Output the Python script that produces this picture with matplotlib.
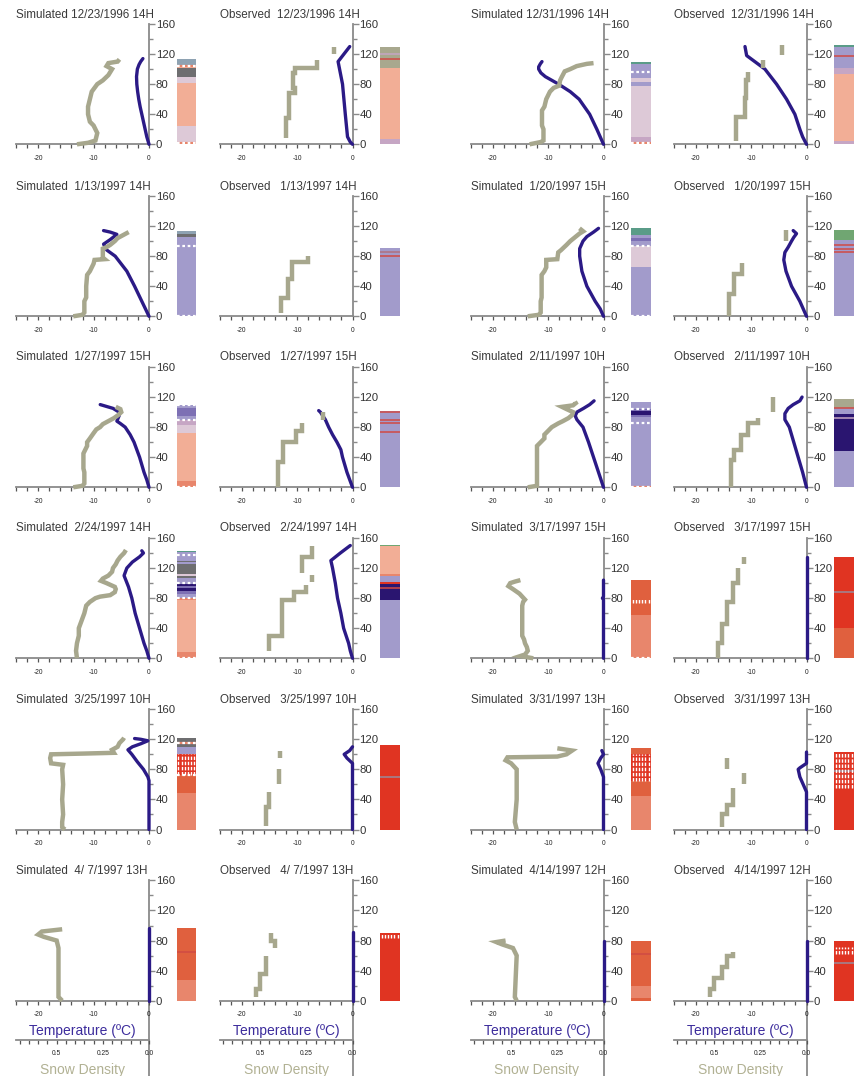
import matplotlib
matplotlib.use("Agg")
import matplotlib.pyplot as plt
from matplotlib.ticker import MultipleLocator, FixedLocator, FixedFormatter
import numpy as np

plt.rcParams['font.family'] = ['Liberation Sans', 'DejaVu Sans']
plt.rcParams['axes.unicode_minus'] = False

# ---------------------------------------------------------------------------
# Profiles: temperature (h [cm], T [degC]); density (h [cm], rho [g/cm3]),
# None separates unconnected pieces.  Layers: (bottom, top, grain class).
# ---------------------------------------------------------------------------
titles = [
    "Simulated 12/23/1996 14H", "Observed  12/23/1996 14H",
    "Simulated 12/31/1996 14H", "Observed  12/31/1996 14H",
    "Simulated  1/13/1997 14H", "Observed   1/13/1997 14H",
    "Simulated  1/20/1997 15H", "Observed   1/20/1997 15H",
    "Simulated  1/27/1997 15H", "Observed   1/27/1997 15H",
    "Simulated  2/11/1997 10H", "Observed   2/11/1997 10H",
    "Simulated  2/24/1997 14H", "Observed   2/24/1997 14H",
    "Simulated  3/17/1997 15H", "Observed   3/17/1997 15H",
    "Simulated  3/25/1997 10H", "Observed   3/25/1997 10H",
    "Simulated  3/31/1997 13H", "Observed   3/31/1997 13H",
    "Simulated  4/ 7/1997 13H", "Observed   4/ 7/1997 13H",
    "Simulated  4/14/1997 12H", "Observed   4/14/1997 12H",
]

# 12/23/1996
sim_1223_temp = [(0, 0), (10, -0.4), (20, -0.7), (30, -1.0), (40, -1.3), (50, -1.6), (60, -1.85),
                 (70, -2.05), (80, -2.2), (90, -2.25), (100, -2.1), (106, -1.8), (110, -1.5), (114, -1.1)]
sim_1223_rho = [(0, 0.39), (2, 0.33), (5, 0.29), (15, 0.28), (25, 0.30), (30, 0.32), (40, 0.33),
                (50, 0.33), (60, 0.32), (70, 0.31), (80, 0.28), (85, 0.25), (92, 0.22), (100, 0.20),
                (104, 0.23), (108, 0.22), (110, 0.17), (113, 0.16)]
sim_1223_layers = [(0, 25, 'PNK'), (25, 82, 'SAL'), (82, 89, 'PNK'), (89, 102, 'GRY'),
                   (102, 104, 'SAL'), (104, 114, 'BGR')]
sim_1223_lines = []
sim_1223_dots = [(1.5, 'COR'), (103.5, 'COR')]
sim_1223_hatch = []

obs_1223_temp = [(0, 0), (3, -0.4), (10, -0.9), (40, -1.3), (80, -1.8), (110, -2.6), (130, -0.5)]
obs_1223_rho = [(8, 0.36), (35, 0.36), (35, 0.345), (68, 0.345), (68, 0.31), (75, 0.31), (75, 0.32),
                (95, 0.32), (95, 0.31), (102, 0.31), (102, 0.19), (112, 0.19), None, (120, 0.10), (130, 0.10)]
obs_1223_layers = [(0, 7, 'MAU'), (7, 101, 'SAL'), (101, 130, 'OLV')]
obs_1223_lines = [(113, 'RLN'), (120, 'MAU')]
obs_1223_dots = []
obs_1223_hatch = []

# 12/31/1996
sim_1231_temp = [(0, 0), (20, -1.2), (40, -2.5), (60, -4.4), (70, -6.0), (80, -8.1), (85, -9.3),
                 (90, -10.5), (95, -11.3), (100, -11.7), (103, -11.7), (107, -11.4), (110, -11.1)]
sim_1231_rho = [(0, 0.40), (3, 0.34), (5, 0.325), (20, 0.325), (25, 0.333), (45, 0.333), (50, 0.32),
                (60, 0.31), (70, 0.29), (75, 0.27), (78, 0.24), (85, 0.235), (90, 0.225), (97, 0.21),
                (100, 0.18), (104, 0.145), (107, 0.09), (108, 0.054)]
sim_1231_layers = [(0, 10, 'MAU'), (10, 78, 'PNK'), (78, 83, 'LAV'), (83, 88, 'PNK'),
                   (88, 100, 'LAV'), (100, 107, 'LAV'), (107, 109, 'TEA')]
sim_1231_lines = []
sim_1231_dots = [(1.5, 'COR'), (96, None)]
sim_1231_hatch = []

obs_1231_temp = [(0, 0), (10, -0.7), (20, -1.2), (40, -2.1), (60, -3.6), (80, -5.4), (100, -7.5),
                 (118, -10.8), (130, -11.1)]
obs_1231_rho = [(5, 0.38), (36, 0.38), (36, 0.335), (62, 0.335), (62, 0.325), (85, 0.325), (85, 0.315),
                (96, 0.315), None, (101, 0.235), (112, 0.235), None, (119, 0.135), (132, 0.135)]
obs_1231_layers = [(0, 4, 'MAU'), (4, 94, 'SAL'), (94, 101, 'MAU'), (101, 130, 'LAV'), (130, 132, 'TEA')]
obs_1231_lines = [(117, 'RLN')]
obs_1231_dots = []
obs_1231_hatch = []

# 1/13/1997
sim_0113_temp = [(0, 0), (20, -1.3), (40, -2.6), (60, -4.0), (80, -6.1), (88, -7.6), (96, -8.2),
                 (102, -7.0), (109, -5.8), (112, -7.0), (114, -8.2)]
sim_0113_rho = [(0, 0.41), (2, 0.36), (5, 0.35), (20, 0.35), (25, 0.34), (40, 0.34), (55, 0.335),
                (60, 0.32), (70, 0.30), (75, 0.295), (76, 0.24), (78, 0.25), (90, 0.25), (92, 0.23),
                (95, 0.21), (100, 0.185), (104, 0.17), (108, 0.14), (112, 0.11)]
sim_0113_layers = [(0, 105, 'LAV'), (105, 110, 'GRY'), (110, 113, 'BGR')]
sim_0113_lines = []
sim_0113_dots = [(1, None), (94, None)]
sim_0113_hatch = []

obs_0113_temp = []
obs_0113_rho = [(5, 0.385), (25, 0.385), (25, 0.35), (50, 0.35), (50, 0.33), (72, 0.33),
                (72, 0.24), (80, 0.24)]
obs_0113_layers = [(0, 91, 'LAV')]
obs_0113_lines = [(80, 'RLN'), (86, 'BRN')]
obs_0113_dots = []
obs_0113_hatch = []

# 1/20/1997
sim_0120_temp = [(0, 0), (10, -0.6), (20, -1.5), (40, -3.0), (60, -3.9), (80, -4.3), (90, -4.3),
                 (100, -3.7), (106, -3.0), (112, -1.8), (117, -0.9)]
sim_0120_rho = [(0, 0.41), (2, 0.35), (5, 0.34), (20, 0.34), (25, 0.335), (55, 0.335), (60, 0.32),
                (65, 0.31), (75, 0.31), (76, 0.25), (85, 0.245), (88, 0.23), (95, 0.20), (100, 0.18),
                (105, 0.155), (110, 0.13), (113, 0.11), (117, 0.13)]
sim_0120_layers = [(0, 65, 'LAV'), (65, 93, 'PNK'), (93, 100, 'LAV'), (100, 104, 'PUR'),
                   (104, 108, 'LAV'), (108, 118, 'TEA')]
sim_0120_lines = []
sim_0120_dots = [(1, None), (93, None)]
sim_0120_hatch = []

obs_0120_temp = [(0, 0), (10, -0.6), (20, -1.2), (40, -2.7), (60, -3.7), (75, -4.1), (85, -3.9),
                 (92, -3.3), (100, -2.7), (105, -2.3), (110, -1.8), (114, -2.4)]
obs_0120_rho = [(0, 0.42), (30, 0.42), (30, 0.39), (56, 0.39), (56, 0.35), (71, 0.35), None,
                (100, 0.11), (115, 0.11)]
obs_0120_layers = [(0, 101, 'LAV'), (101, 115, 'GRN')]
obs_0120_lines = [(85, 'RLN'), (90, 'RLN'), (95, 'RLN')]
obs_0120_dots = []
obs_0120_hatch = []

# 1/27/1997
sim_0127_temp = [(0, 0), (10, -0.4), (20, -0.9), (40, -1.7), (60, -2.7), (70, -3.4), (80, -4.3),
                 (85, -5.2), (88, -5.8), (95, -5.4), (100, -5.4), (105, -6.5), (110, -8.8)]
sim_0127_rho = [(0, 0.41), (2, 0.36), (5, 0.35), (20, 0.35), (25, 0.355), (45, 0.355), (50, 0.345),
                (55, 0.335), (60, 0.335), (65, 0.32), (72, 0.30), (77, 0.285), (80, 0.265), (84, 0.25),
                (88, 0.22), (92, 0.19), (96, 0.167), (100, 0.15), (104, 0.155), (107, 0.18)]
sim_0127_layers = [(0, 8, 'COR'), (8, 72, 'SAL'), (72, 83, 'PNK'), (83, 90, 'MAU'), (90, 95, 'LAV'),
                   (95, 105, 'PUR'), (105, 110, 'LAV')]
sim_0127_lines = []
sim_0127_dots = [(1, 'COR'), (90, None), (109, None)]
sim_0127_hatch = []

obs_0127_temp = [(0, 0), (10, -0.5), (20, -1.0), (40, -1.8), (50, -2.1), (60, -2.8), (70, -3.6),
                 (80, -4.3), (90, -4.9), (100, -5.8), (102, -6.1)]
obs_0127_rho = [(0, 0.405), (33, 0.405), (33, 0.375), (60, 0.375), (60, 0.305), (75, 0.305),
                (75, 0.275), (85, 0.275), None, (90, 0.157), (100, 0.157)]
obs_0127_layers = [(0, 101, 'LAV')]
obs_0127_lines = [(74, 'RLN'), (85, 'RLN'), (90, 'RLN'), (100.5, 'RLN')]
obs_0127_dots = []
obs_0127_hatch = []

# 2/11/1997
sim_0211_temp = [(0, 0), (20, -0.9), (40, -1.8), (60, -2.7), (80, -3.7), (90, -4.8), (95, -5.1),
                 (100, -4.8), (105, -3.6), (110, -2.5), (115, -1.7)]
sim_0211_rho = [(0, 0.41), (2, 0.36), (30, 0.36), (55, 0.36), (60, 0.34), (65, 0.32), (70, 0.32),
                (80, 0.28), (85, 0.245), (88, 0.22), (92, 0.19), (96, 0.17), (100, 0.165), (104, 0.20),
                (107, 0.225), (109, 0.165), (112, 0.15), (114, 0.155)]
sim_0211_layers = [(0, 85, 'LAV'), (85, 93, 'LAV'), (93, 96, 'PUR'), (96, 101, 'NAV'),
                   (101, 104, 'PUR'), (104, 114, 'LAV')]
sim_0211_lines = []
sim_0211_dots = [(1, 'COR'), (85, None), (104, None)]
sim_0211_hatch = []

obs_0211_temp = [(0, 0), (20, -0.7), (40, -1.5), (60, -2.3), (80, -3.1), (90, -3.9), (98, -3.9),
                 (105, -3.3), (110, -2.4), (115, -1.2), (120, -0.8)]
obs_0211_rho = [(0, 0.41), (36, 0.41), (36, 0.39), (50, 0.39), (50, 0.355), (70, 0.355),
                (70, 0.316), (85, 0.316), (85, 0.26), (92, 0.26), None, (100, 0.18), (120, 0.18)]
obs_0211_layers = [(0, 48, 'LAV'), (48, 97, 'NAV'), (97, 106, 'LAV'), (106, 118, 'OLV')]
obs_0211_lines = [(92, 'MAU'), (106, 'RLN')]
obs_0211_dots = []
obs_0211_hatch = []

# 2/24/1997
sim_0224_temp = [(0, 0), (10, -0.4), (20, -0.9), (40, -1.7), (60, -2.5), (80, -3.1), (95, -3.7),
                 (110, -4.5), (120, -4.0), (128, -3.0), (135, -1.7), (140, -1.0), (143, -1.3)]
sim_0224_rho = [(0, 0.39), (10, 0.395), (20, 0.39), (30, 0.38), (40, 0.38), (50, 0.365), (60, 0.35),
                (70, 0.34), (75, 0.32), (80, 0.29), (82, 0.265), (84, 0.21), (88, 0.185), (92, 0.18),
                (95, 0.185), (100, 0.23), (103, 0.26), (106, 0.25), (110, 0.22), (115, 0.20),
                (120, 0.195), (125, 0.18), (130, 0.17), (135, 0.155), (140, 0.135), (144, 0.125)]
sim_0224_layers = [(0, 8, 'COR'), (8, 78, 'SAL'), (78, 80, 'COR'), (80, 85, 'LAV'), (85, 90, 'PUR'),
                   (90, 93, 'NAV'), (93, 96, 'PUR'), (96, 99, 'NAV'), (99, 107, 'LAV'), (107, 110, 'GRY'),
                   (110, 112, 'PNK'), (112, 126, 'GRY'), (126, 128, 'LAV'), (128, 130, 'GRY'),
                   (130, 141, 'LAV'), (141, 143, 'TEA')]
sim_0224_lines = []
sim_0224_dots = [(1, 'COR'), (80, None), (100, None), (138, None)]
sim_0224_hatch = []

obs_0224_temp = [(0, 0), (10, -0.4), (20, -0.7), (40, -1.6), (60, -2.1), (80, -2.7), (100, -3.1),
                 (120, -3.6), (130, -3.9), (140, -2.2), (150, -0.4)]
obs_0224_rho = [(10, 0.45), (30, 0.45), (30, 0.383), (78, 0.383), (78, 0.316), (88, 0.316),
                (88, 0.25), (97, 0.25), None, (101, 0.217), (111, 0.217), None,
                (113, 0.275), (135, 0.275), (135, 0.217), (150, 0.217)]
obs_0224_layers = [(0, 77, 'LAV'), (77, 99, 'NAV'), (99, 101, 'RED'), (101, 110, 'LAV'),
                   (110, 112, 'COR'), (112, 149, 'SAL'), (149, 151, 'GRN')]
obs_0224_lines = [(94, 'RLN')]
obs_0224_dots = []
obs_0224_hatch = []

# 3/17/1997
sim_0317_temp = [(0, 0), (78, 0), (80, -0.2), (82, 0), (104, 0)]
sim_0317_rho = [(0, 0.38), (3, 0.45), (5, 0.425), (10, 0.41), (15, 0.415), (20, 0.425), (25, 0.43),
                (30, 0.44), (70, 0.44), (75, 0.435), (78, 0.425), (82, 0.44), (86, 0.455), (92, 0.49),
                (96, 0.515), (100, 0.505), (102, 0.48), (104, 0.45)]
sim_0317_layers = [(0, 58, 'COR'), (58, 104, 'ORG')]
sim_0317_lines = []
sim_0317_dots = [(0.8, None)]
sim_0317_hatch = [(74, 80)]

obs_0317_temp = [(0, 0), (135, 0)]
obs_0317_rho = [(0, 0.48), (20, 0.48), (20, 0.46), (45, 0.46), (45, 0.43), (75, 0.43), (75, 0.40),
                (100, 0.40), (100, 0.37), (120, 0.37), None, (125, 0.34), (135, 0.34)]
obs_0317_layers = [(0, 40, 'ORG'), (40, 135, 'RED')]
obs_0317_lines = [(88, 'GLN')]
obs_0317_dots = []
obs_0317_hatch = []

# 3/25/1997
sim_0325_temp = [(0, 0), (65, 0), (70, -0.2), (80, -1.0), (90, -2.1), (100, -3.1), (106, -3.8),
                 (110, -3.0), (114, -1.5), (118, -0.2), (120, -1.5), (121, -2.6)]
sim_0325_rho = [(0, 0.455), (3, 0.47), (10, 0.47), (20, 0.465), (40, 0.47), (60, 0.465), (80, 0.47),
                (86, 0.465), (88, 0.53), (95, 0.535), (100, 0.53), (101, 0.35), (102, 0.19),
                (106, 0.20), (110, 0.17), (115, 0.16), (120, 0.14), (122, 0.135)]
sim_0325_layers = [(0, 49, 'COR'), (49, 72, 'ORG'), (72, 100, 'RED'), (100, 110, 'LAV'),
                   (110, 114, 'GRY'), (114, 117, 'PNK'), (117, 122, 'GRY')]
sim_0325_lines = []
sim_0325_dots = [(72, None), (115.5, 'COR')]
sim_0325_hatch = [(72, 100)]

obs_0325_temp = [(0, 0), (88, 0), (95, -1.0), (100, -1.5), (105, -0.5), (110, 0)]
obs_0325_rho = [(5, 0.47), (30, 0.47), (30, 0.45), (50, 0.45), None, (60, 0.40), (80, 0.40), None,
                (95, 0.39), (105, 0.39)]
obs_0325_layers = [(0, 112, 'RED')]
obs_0325_lines = [(70, 'GLN')]
obs_0325_dots = []
obs_0325_hatch = []

# 3/31/1997
sim_0331_temp = [(0, 0), (70, 0), (80, -0.5), (88, -1.0), (95, -0.5), (100, 0), (105, -0.3)]
sim_0331_rho = [(0, 0.47), (10, 0.48), (40, 0.47), (80, 0.47), (88, 0.50), (92, 0.53), (96, 0.52),
                (97, 0.25), (100, 0.20), (105, 0.17), (108, 0.25)]
sim_0331_layers = [(0, 45, 'COR'), (45, 65, 'ORG'), (65, 100, 'RED'), (100, 108, 'ORG')]
sim_0331_lines = []
sim_0331_dots = []
sim_0331_hatch = [(65, 100)]

obs_0331_temp = [(0, 0), (50, 0), (60, -0.6), (70, -1.2), (80, -1.5), (82, -1.2), (88, 0), (103, 0)]
obs_0331_rho = [(3, 0.46), (20, 0.46), (20, 0.43), (33, 0.43), (33, 0.40), (55, 0.40), None,
                (60, 0.34), (75, 0.34), None, (80, 0.43), (95, 0.43)]
obs_0331_layers = [(0, 103, 'RED')]
obs_0331_lines = [(78, 'GLN')]
obs_0331_dots = []
obs_0331_hatch = [(55, 97), (97, 103)]

# 4/7/1997
sim_0407_temp = [(0, 0), (97, 0)]
sim_0407_rho = [(0, 0.47), (5, 0.49), (70, 0.49), (80, 0.50), (85, 0.57), (88, 0.60), (92, 0.58),
                (95, 0.47)]
sim_0407_layers = [(0, 28, 'COR'), (28, 97, 'ORG')]
sim_0407_lines = [(65, 'RLN')]
sim_0407_dots = []
sim_0407_hatch = []

obs_0407_temp = [(0, 0), (92, 0)]
obs_0407_rho = [(5, 0.52), (15, 0.52), (15, 0.50), (35, 0.50), (35, 0.47), (60, 0.47), None,
                (70, 0.42), (80, 0.42), (80, 0.44), (90, 0.44)]
obs_0407_layers = [(0, 90, 'RED')]
obs_0407_lines = []
obs_0407_dots = []
obs_0407_hatch = [(84, 90)]

# 4/14/1997
sim_0414_temp = [(0, 0), (80, 0)]
sim_0414_rho = [(0, 0.47), (5, 0.48), (60, 0.47), (70, 0.49), (75, 0.55), (78, 0.58), (80, 0.53)]
sim_0414_layers = [(0, 3, 'ORG'), (3, 20, 'COR'), (20, 80, 'ORG')]
sim_0414_lines = [(62, 'RLN')]
sim_0414_dots = []
sim_0414_hatch = []

obs_0414_temp = [(0, 0), (80, 0)]
obs_0414_rho = [(5, 0.52), (15, 0.52), (15, 0.50), (30, 0.50), (30, 0.46), (45, 0.46), (45, 0.43),
                (60, 0.43), (60, 0.40), (65, 0.40)]
obs_0414_layers = [(0, 80, 'RED')]
obs_0414_lines = [(50, 'GLN')]
obs_0414_dots = []
obs_0414_hatch = [(62, 72)]

# ---------------------------------------------------------------------------
# Styling
# ---------------------------------------------------------------------------
GRAIN_COLORS = {
    'SAL': '#f2ae96', 'PNK': '#ddc9d7', 'MAU': '#c6a6c4', 'LAV': '#a29bcb',
    'PUR': '#7d70b4', 'NAV': '#2a1570', 'GRY': '#6e6e70', 'BGR': '#8ea2b2',
    'OLV': '#a8a88e', 'GRN': '#70a672', 'TEA': '#5a9c88', 'COR': '#e8866c',
    'ORG': '#e0603e', 'RED': '#e03422', 'RLN': '#d04a44', 'BRN': '#b07080',
    'GLN': '#9a8a9a',
}
TEMP_COLOR = '#2b1a86'
DENS_COLOR = '#a7a78d'
AXIS_GRAY = '#8a8a8a'
T_MIN = -24.0
RHO_MAX = 0.72  # density at the left end of the temperature axis

W, H = 857, 1076
fig = plt.figure(figsize=(W / 100, H / 100), dpi=100)

col_zero = [149.0, 352.5, 603.5, 806.5]   # pixel x of T = 0
row_base = [144.3, 316.3, 487.3, 658.3, 829.5, 1000.7]  # pixel y of h = 0
AX_W, AX_H = 133.0, 120.3
BAR_OFF, BAR_W = 27.5, 19.5


def fx(px):
    return px / W


def fy(py):
    return 1 - py / H


panel_data = [
    (sim_1223_temp, sim_1223_rho, sim_1223_layers, sim_1223_lines, sim_1223_dots, sim_1223_hatch),
    (obs_1223_temp, obs_1223_rho, obs_1223_layers, obs_1223_lines, obs_1223_dots, obs_1223_hatch),
    (sim_1231_temp, sim_1231_rho, sim_1231_layers, sim_1231_lines, sim_1231_dots, sim_1231_hatch),
    (obs_1231_temp, obs_1231_rho, obs_1231_layers, obs_1231_lines, obs_1231_dots, obs_1231_hatch),
    (sim_0113_temp, sim_0113_rho, sim_0113_layers, sim_0113_lines, sim_0113_dots, sim_0113_hatch),
    (obs_0113_temp, obs_0113_rho, obs_0113_layers, obs_0113_lines, obs_0113_dots, obs_0113_hatch),
    (sim_0120_temp, sim_0120_rho, sim_0120_layers, sim_0120_lines, sim_0120_dots, sim_0120_hatch),
    (obs_0120_temp, obs_0120_rho, obs_0120_layers, obs_0120_lines, obs_0120_dots, obs_0120_hatch),
    (sim_0127_temp, sim_0127_rho, sim_0127_layers, sim_0127_lines, sim_0127_dots, sim_0127_hatch),
    (obs_0127_temp, obs_0127_rho, obs_0127_layers, obs_0127_lines, obs_0127_dots, obs_0127_hatch),
    (sim_0211_temp, sim_0211_rho, sim_0211_layers, sim_0211_lines, sim_0211_dots, sim_0211_hatch),
    (obs_0211_temp, obs_0211_rho, obs_0211_layers, obs_0211_lines, obs_0211_dots, obs_0211_hatch),
    (sim_0224_temp, sim_0224_rho, sim_0224_layers, sim_0224_lines, sim_0224_dots, sim_0224_hatch),
    (obs_0224_temp, obs_0224_rho, obs_0224_layers, obs_0224_lines, obs_0224_dots, obs_0224_hatch),
    (sim_0317_temp, sim_0317_rho, sim_0317_layers, sim_0317_lines, sim_0317_dots, sim_0317_hatch),
    (obs_0317_temp, obs_0317_rho, obs_0317_layers, obs_0317_lines, obs_0317_dots, obs_0317_hatch),
    (sim_0325_temp, sim_0325_rho, sim_0325_layers, sim_0325_lines, sim_0325_dots, sim_0325_hatch),
    (obs_0325_temp, obs_0325_rho, obs_0325_layers, obs_0325_lines, obs_0325_dots, obs_0325_hatch),
    (sim_0331_temp, sim_0331_rho, sim_0331_layers, sim_0331_lines, sim_0331_dots, sim_0331_hatch),
    (obs_0331_temp, obs_0331_rho, obs_0331_layers, obs_0331_lines, obs_0331_dots, obs_0331_hatch),
    (sim_0407_temp, sim_0407_rho, sim_0407_layers, sim_0407_lines, sim_0407_dots, sim_0407_hatch),
    (obs_0407_temp, obs_0407_rho, obs_0407_layers, obs_0407_lines, obs_0407_dots, obs_0407_hatch),
    (sim_0414_temp, sim_0414_rho, sim_0414_layers, sim_0414_lines, sim_0414_dots, sim_0414_hatch),
    (obs_0414_temp, obs_0414_rho, obs_0414_layers, obs_0414_lines, obs_0414_dots, obs_0414_hatch),
]


def split_xy(points):
    hs, vs = [], []
    for p in points:
        if p is None:
            hs.append(np.nan)
            vs.append(np.nan)
        else:
            hs.append(p[0])
            vs.append(p[1])
    return np.array(vs, float), np.array(hs, float)


for idx, (title, data) in enumerate(zip(titles, panel_data)):
    temp, rho, layers, lines, dots, hatch = data
    r, c = divmod(idx, 4)
    x0 = col_zero[c]
    y0 = row_base[r]

    ax = fig.add_axes([fx(x0 - AX_W), fy(y0), AX_W / W, AX_H / H])
    ax.set_xlim(T_MIN, 0)
    ax.set_ylim(0, 160)
    ax.patch.set_alpha(0)
    for s in ('left', 'top'):
        ax.spines[s].set_visible(False)
    for s in ('right', 'bottom'):
        ax.spines[s].set_color(AXIS_GRAY)
        ax.spines[s].set_linewidth(1.3)
    ax.yaxis.tick_right()
    ax.yaxis.set_major_locator(MultipleLocator(40))
    ax.yaxis.set_minor_locator(MultipleLocator(20))
    ax.xaxis.set_major_locator(MultipleLocator(10))
    ax.xaxis.set_minor_locator(MultipleLocator(2))
    ax.tick_params(axis='y', which='major', direction='out', length=4, width=1.0,
                   color=AXIS_GRAY, labelsize=8.2, labelcolor='#333333', pad=1)
    ax.tick_params(axis='y', which='minor', direction='out', length=3, width=1.0, color=AXIS_GRAY)
    ax.tick_params(axis='x', which='both', direction='out', length=3, width=0.9,
                   color='#555555', labelsize=4.8, labelcolor='#222222', pad=4.5)

    # temperature profile
    if temp:
        tv, th = split_xy(temp)
        ax.plot(tv, th, color=TEMP_COLOR, lw=2.4, solid_capstyle='round',
                solid_joinstyle='round', clip_on=False, zorder=3)

    # density profile on a twin axis sharing the height scale
    axd = ax.twiny()
    axd.set_xlim(RHO_MAX, 0)
    axd.set_ylim(0, 160)
    for s in axd.spines.values():
        s.set_visible(False)
    dv, dh = split_xy(rho)
    axd.plot(dv, dh, color=DENS_COLOR, lw=3.2, solid_capstyle='butt',
             solid_joinstyle='miter', clip_on=False, zorder=4)

    if r == 5:
        axd.xaxis.set_ticks_position('bottom')
        axd.xaxis.set_label_position('bottom')
        axd.spines['bottom'].set_visible(True)
        axd.spines['bottom'].set_position(('outward', 28.5))
        axd.spines['bottom'].set_color(AXIS_GRAY)
        axd.spines['bottom'].set_linewidth(1.3)
        axd.xaxis.set_major_locator(FixedLocator([0.5, 0.25, 0.0]))
        axd.xaxis.set_major_formatter(FixedFormatter(['0.5', '0.25', '0.0']))
        axd.xaxis.set_minor_locator(MultipleLocator(0.05))
        axd.tick_params(axis='x', which='both', direction='out', length=3, width=0.9,
                        color='#555555', labelsize=4.8, labelcolor='#222222', pad=4)
        axd.tick_params(axis='y', left=False, right=False, labelleft=False, labelright=False)
        axd.set_xlabel('Snow Density', color='#b1b193', fontsize=10, labelpad=4)
        ax.set_xlabel('Temperature (\u00baC)', color='#3c2c9c', fontsize=10, labelpad=4)
        # y axis line continues through the density scale
        ax.plot([0, 0], [0, -100], color=AXIS_GRAY, lw=1.3, clip_on=False, zorder=1)
    else:
        axd.tick_params(axis='both', which='both', top=False, bottom=False, left=False,
                        right=False, labeltop=False, labelbottom=False,
                        labelleft=False, labelright=False)

    fig.text(fx(x0 - AX_W + 0.5), fy(y0 - AX_H - 6.5), title, fontsize=8.4,
             color='#3a3a3a', ha='left', va='baseline')

    # stratigraphy column
    axb = fig.add_axes([fx(x0 + BAR_OFF), fy(y0), BAR_W / W, AX_H / H])
    axb.set_xlim(0, 1)
    axb.set_ylim(0, 160)
    axb.axis('off')
    for bot, top, code in layers:
        axb.bar(0.5, top - bot, bottom=bot, width=1.0, color=GRAIN_COLORS[code],
                linewidth=0, zorder=1)
    for h, code in lines:
        axb.axhline(h, color=GRAIN_COLORS[code], lw=1.1, zorder=2)
    for bot, top in hatch:
        xs = np.linspace(0.1, 0.9, 6)
        axb.vlines(xs, bot, top, color='white', lw=1.0, linestyles=(0, (2.5, 1.2)), zorder=3)
    for h, code in dots:
        if code is not None:
            axb.axhline(h, color=GRAIN_COLORS[code], lw=1.6, zorder=3)
        axb.axhline(h, color='white', lw=1.6, linestyle=(0, (1.2, 1.2)), zorder=4)

fig.savefig('out.png', dpi=100)
